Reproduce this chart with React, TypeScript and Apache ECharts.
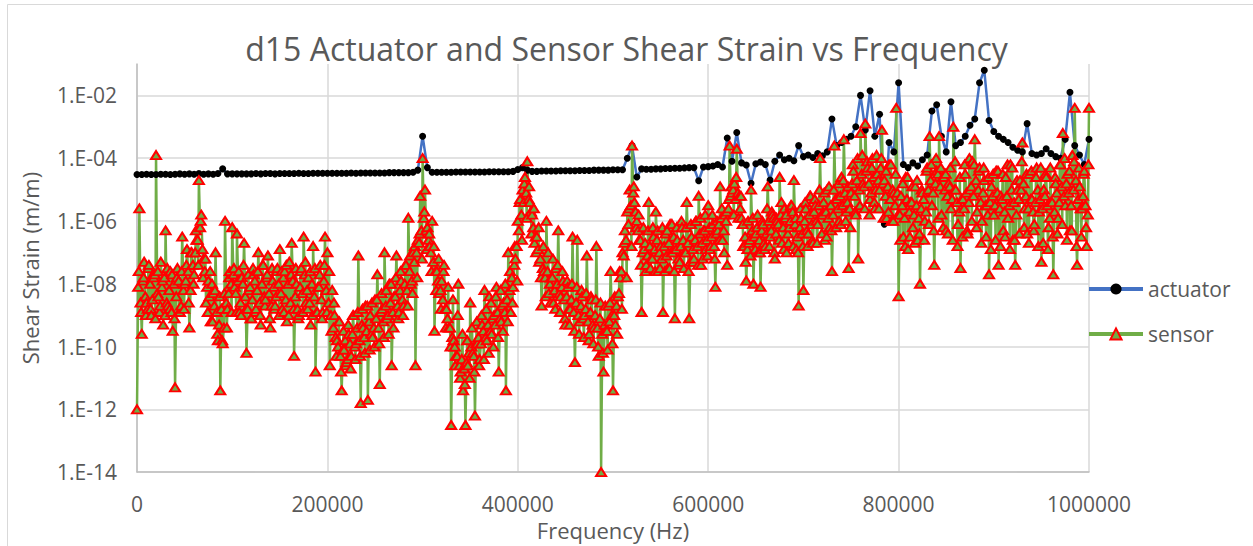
import React, { useEffect, useRef } from "react";
import * as echarts from "echarts";

// Title / axis texts
const TITLE = "d15 Actuator and Sensor Shear Strain vs Frequency";
const X_NAME = "Frequency (Hz)";
const Y_NAME = "Shear Strain (m/m)";
const SERIES_NAMES = ["actuator", "sensor"];

// Frequency sweep steps (Hz) of the sampled series
// sensorLog10 at k*2500, sensorMidLog10 at k*2500+1250, sensorBandLog10 at k*2500+1875
const SENSOR_STEP_HZ = 2500;
const SENSOR_MID_OFFSET_HZ = 1250;
const SENSOR_BAND_OFFSET_HZ = 1875;
const ACTUATOR_STEP_HZ = 5000;

// log10 of sensor shear strain at 0, 2500, 5000 ... 1 000 000 Hz
const sensorLog10 = [
  -12.0, -5.6, -9.6, -7.3, -8.6, -7.4, -9.0, -7.8, -3.9, -8.4, -7.3, -9.3, -6.3, -8.7, -7.6, -9.5, -11.3, -7.5, -8.9, -6.5,
  -8.0, -6.9, -9.4, -7.0, -7.7, -6.6, -4.7, -5.8, -7.2, -8.6, -7.9, -9.2, -8.3, -7.0, -9.8, -11.4, -9.9, -6.0, -8.8, -7.6,
  -6.2, -8.1, -6.4, -8.9, -7.8, -6.7, -10.2, -8.2, -9.1, -7.7, -8.8, -7.0, -9.3, -7.4, -8.5, -7.1, -9.4, -7.9, -8.7, -7.5,
  -6.9, -8.8, -7.6, -9.2, -7.3, -6.7, -10.3, -8.0, -9.0, -7.5, -6.5, -8.6, -7.8, -9.3, -6.8, -10.8, -8.1, -7.4, -8.9, -6.5,
  -7.0, -10.6, -8.2, -9.0, -9.8, -9.2, -11.4, -10.1, -10.5, -9.6, -10.3, -9.0, -9.9, -7.1, -11.8, -9.4, -8.7, -11.7, -9.0, -9.7,
  -8.5, -7.7, -11.2, -8.8, -7.0, -9.1, -8.0, -10.6, -8.4, -7.1, -8.9, -7.9, -8.7, -7.4, -5.9, -8.0, -7.0, -10.6, -6.6, -5.2,
  -4.0, -5.0, -6.2, -6.8, -6.0, -9.5, -7.6, -8.3, -7.9, -7.4, -8.8, -9.4, -12.5, -9.8, -10.3, -8.0, -10.8, -11.4, -12.5, -10.6,
  -8.6, -10.2, -12.2, -9.9, -10.4, -9.3, -8.2, -9.8, -8.4, -9.6, -9.0, -8.1, -10.8, -9.2, -8.6, -11.4, -7.0, -8.9, -8.1, -7.2,
  -6.0, -5.3, -5.0, -4.6, -4.1, -5.4, -5.8, -6.7, -6.5, -7.3, -8.7, -7.6, -6.0, -8.3, -7.8, -8.6, -7.5, -6.3, -8.4, -7.9,
  -9.3, -8.1, -8.8, -6.5, -10.5, -6.6, -9.2, -8.4, -9.0, -7.1, -9.6, -8.5, -9.4, -6.8, -10.3, -14.0, -10.8, -9.5, -8.7, -7.6,
  -11.4, -9.3, -8.4, -7.8, -7.0, -6.3, -5.7, -5.0, -3.6, -5.4, -6.0, -6.6, -8.9, -6.9, -7.4, -5.4, -7.2, -6.5, -5.7, -7.6,
  -6.8, -8.9, -6.4, -7.5, -6.1, -7.0, -9.1, -6.6, -7.3, -6.2, -7.0, -5.4, -9.1, -6.5, -7.2, -6.0, -5.2, -7.4, -6.3, -6.9,
  -5.5, -6.8, -6.1, -8.1, -6.3, -4.9, -6.6, -5.8, -7.4, -3.6, -5.1, -4.8, -3.7, -5.2, -5.9, -6.8, -7.9, -6.7, -5.0, -8.0,
  -6.4, -7.0, -8.1, -6.1, -6.8, -4.9, -6.5, -5.8, -7.2, -6.0, -4.6, -6.7, -5.6, -7.0, -6.2, -5.5, -4.7, -6.9, -8.7, -5.9,
  -8.2, -5.6, -6.4, -5.2, -6.7, -5.5, -6.1, -4.0, -5.8, -6.6, -5.0, -6.2, -7.6, -3.6, -5.3, -6.0, -4.6, -3.4, -5.7, -7.5,
  -5.1, -4.4, -5.8, -7.2, -3.2, -4.8, -2.9, -4.3, -5.3, -4.0, -5.6, -4.5, -5.0, -3.1, -4.7, -5.9, -4.2, -6.0, -5.1, -2.4,
  -8.4, -5.2, -6.5, -4.6, -6.9, -5.4, -6.2, -4.9, -6.6, -8.0, -5.1, -6.0, -4.3, -3.3, -5.5, -7.4, -4.4, -3.3, -5.8, -4.6,
  -6.3, -4.8, -5.6, -3.0, -5.0, -6.1, -7.5, -5.3, -4.5, -6.4, -5.0, -4.1, -3.4, -5.7, -4.3, -6.0, -4.7, -5.5, -7.7, -4.9,
  -5.8, -4.4, -7.4, -5.2, -6.3, -4.6, -5.9, -4.2, -6.6, -7.4, -5.0, -4.7, -3.5, -5.6, -6.4, -4.5, -5.3, -6.1, -4.3, -5.7,
  -7.3, -5.0, -4.6, -6.2, -5.4, -7.7, -4.8, -5.9, -4.2, -3.2, -5.5, -4.5, -6.3, -3.9, -2.4, -7.4, -4.9, -5.6, -4.4, -6.8,
  -2.4,
];

// log10 of sensor shear strain inside the dense band, at 1250, 3750 ... 998 750 Hz
const sensorMidLog10 = [
  -8.1, -8.6, -7.9, -8.4, -8.8, -8.0, -8.5, -7.7, -8.3, -8.9, -8.1, -7.8, -8.6, -8.2, -8.9, -8.0, -8.4, -7.9, -8.7, -8.2,
  -7.9, -7.6, -8.2, -7.4, -7.0, -6.6, -6.2, -6.9, -7.6, -8.1, -8.4, -8.0, -8.7, -8.9, -9.3, -8.8, -9.4, -8.6, -8.3, -8.0,
  -7.7, -8.3, -7.9, -8.6, -8.0, -8.4, -8.8, -8.1, -8.5, -7.9, -8.2, -8.6, -8.0, -8.4, -7.8, -8.3, -8.7, -8.1, -8.4, -8.0,
  -8.3, -7.8, -8.5, -8.0, -8.6, -7.9, -8.4, -8.8, -8.1, -8.3, -7.7, -8.2, -8.6, -8.0, -8.4, -8.9, -8.1, -8.5, -7.9, -8.2,
  -8.6, -9.0, -9.4, -9.7, -10.0, -10.3, -10.1, -9.8, -10.4, -9.9, -9.6, -10.0, -9.4, -9.8, -9.3, -9.7, -9.5, -9.2, -9.6, -9.4,
  -9.1, -9.4, -8.9, -9.2, -8.7, -9.0, -8.6, -8.9, -8.4, -8.7, -8.2, -8.5, -8.0, -8.2, -7.6, -7.9, -7.3, -7.0, -6.7, -6.3,
  -5.9, -6.3, -6.6, -7.0, -7.3, -7.6, -7.9, -8.2, -8.5, -8.8, -9.1, -9.4, -9.7, -10.0, -10.3, -10.6, -10.4, -10.7, -10.5, -10.2,
  -10.0, -10.3, -9.9, -9.7, -9.9, -9.5, -9.7, -9.3, -9.5, -9.1, -9.3, -8.9, -9.1, -8.7, -8.9, -8.5, -8.2, -7.8, -7.4, -6.8,
  -6.3, -5.8, -5.4, -5.1, -5.3, -5.7, -6.2, -6.5, -6.9, -7.2, -7.5, -7.8, -7.6, -8.0, -7.8, -8.2, -8.0, -8.3, -8.1, -8.5,
  -8.4, -8.8, -8.5, -8.9, -8.6, -9.0, -8.7, -9.1, -8.8, -9.2, -8.9, -9.3, -9.0, -9.4, -9.1, -9.6, -9.3, -9.5, -9.2, -9.0,
  -9.0, -8.7, -8.3, -7.6, -7.1, -6.6, -6.1, -5.5, -5.1, -5.7, -6.3, -6.6, -7.0, -6.7, -7.1, -6.8, -7.2, -6.9, -6.6, -7.0,
  -7.2, -6.8, -7.1, -6.7, -7.0, -6.5, -6.9, -7.2, -6.8, -6.6, -7.0, -6.7, -7.3, -6.9, -6.6, -6.8, -6.4, -6.7, -6.3, -6.6,
  -6.2, -6.5, -6.8, -6.4, -6.1, -5.9, -6.3, -6.0, -5.6, -5.2, -5.0, -5.3, -5.1, -5.6, -6.1, -6.5, -6.9, -6.6, -6.3, -6.5,
  -6.2, -6.6, -6.3, -6.7, -6.4, -6.0, -6.3, -5.9, -6.4, -6.1, -5.8, -6.2, -5.9, -6.4, -6.0, -5.7, -6.1, -6.5, -6.2, -6.4,
  -6.0, -6.3, -5.8, -6.1, -5.7, -6.0, -5.5, -5.8, -5.4, -5.7, -5.9, -5.5, -5.8, -5.3, -5.6, -5.2, -5.5, -5.1, -5.4, -5.6,
  -4.8, -5.2, -4.7, -5.0, -4.5, -4.9, -4.4, -4.8, -5.1, -4.6, -5.0, -4.7, -4.3, -4.8, -5.2, -4.9, -5.3, -5.0, -5.5, -5.1,
  -5.8, -5.5, -5.9, -5.3, -5.7, -5.4, -5.8, -5.5, -5.9, -5.6, -5.3, -5.7, -5.0, -4.7, -5.1, -4.8, -4.5, -4.9, -4.6, -5.0,
  -5.2, -4.9, -5.3, -5.0, -5.4, -5.7, -5.3, -5.6, -5.1, -5.4, -4.9, -5.2, -4.7, -5.0, -5.4, -5.1, -5.5, -5.8, -5.4, -5.2,
  -5.5, -5.1, -5.6, -5.3, -5.7, -5.2, -5.5, -5.0, -5.4, -5.8, -5.3, -5.0, -4.8, -5.2, -5.6, -5.3, -5.7, -5.4, -5.0, -5.3,
  -5.6, -5.2, -5.5, -5.9, -5.4, -5.7, -5.1, -5.4, -4.9, -5.2, -4.8, -5.1, -5.5, -5.0, -4.7, -5.3, -5.6, -5.2, -5.5, -5.8,
];

// log10 of sensor shear strain, upper/lower edges of the dense band, at 1875, 4375 ... 999 375 Hz
const sensorBandLog10 = [
  -7.6, -8.9, -7.8, -9.0, -7.5, -8.8, -7.7, -9.1, -7.6, -8.7, -7.9, -9.0, -7.5, -8.8, -7.7, -9.1, -7.8, -8.9, -7.6, -8.8,
  -7.4, -8.6, -7.0, -8.0, -6.3, -7.4, -6.0, -7.8, -7.2, -8.9, -7.6, -9.2, -8.2, -9.6, -8.4, -9.8, -8.3, -9.4, -7.8, -8.9,
  -7.5, -8.9, -7.6, -9.0, -7.4, -8.8, -7.7, -9.1, -7.5, -8.9, -7.6, -9.0, -7.4, -8.7, -7.7, -9.1, -7.5, -8.8, -7.6, -9.0,
  -7.6, -8.9, -7.4, -9.0, -7.7, -8.8, -7.5, -9.1, -7.6, -8.9, -7.3, -8.8, -7.6, -9.0, -7.5, -8.9, -7.7, -9.1, -7.4, -8.9,
  -7.6, -9.5, -8.6, -10.3, -9.2, -10.8, -9.5, -10.6, -9.3, -10.7, -9.0, -10.4, -8.9, -10.3, -8.8, -10.2, -8.7, -10.1, -8.6, -10.0,
  -8.5, -9.9, -8.3, -9.7, -8.2, -9.6, -8.0, -9.4, -7.8, -9.1, -7.6, -9.0, -7.4, -8.7, -7.1, -8.3, -6.8, -7.8, -6.4, -7.2,
  -5.7, -6.9, -6.4, -7.6, -6.8, -8.2, -7.2, -8.8, -7.6, -9.4, -8.1, -10.0, -8.5, -10.6, -9.0, -11.0, -9.6, -11.2, -9.8, -11.0,
  -9.4, -10.8, -9.2, -10.6, -9.0, -10.4, -8.8, -10.2, -8.6, -10.0, -8.4, -9.7, -8.2, -9.5, -8.0, -9.2, -7.6, -8.6, -6.8, -7.9,
  -5.4, -6.6, -4.8, -5.9, -4.9, -6.4, -5.6, -7.0, -6.2, -7.8, -6.8, -8.4, -7.0, -8.6, -7.2, -8.8, -7.4, -8.9, -7.6, -9.1,
  -7.9, -9.3, -8.0, -9.5, -8.1, -9.6, -8.2, -9.7, -8.3, -9.8, -8.4, -9.9, -8.5, -10.0, -8.6, -10.2, -8.7, -10.1, -8.6, -9.9,
  -8.4, -9.6, -7.6, -8.8, -6.7, -7.8, -5.6, -6.8, -4.9, -6.2, -5.8, -7.4, -6.2, -7.6, -6.3, -7.5, -6.2, -7.6, -6.3, -7.5,
  -6.2, -7.6, -6.3, -7.5, -6.1, -7.6, -6.2, -7.4, -6.0, -7.5, -6.2, -7.6, -6.1, -7.3, -6.0, -7.4, -5.9, -7.2, -5.8, -7.1,
  -6.9, -5.8, -7.2, -6.0, -6.6, -5.6, -7.0, -5.7, -5.3, -4.9, -5.8, -4.6, -5.9, -5.2, -6.8, -7.3, -6.0, -7.1, -5.9, -6.9,
  -5.8, -7.0, -6.0, -6.9, -5.6, -6.8, -5.7, -7.0, -5.9, -6.6, -5.4, -6.9, -5.8, -6.7, -5.5, -6.8, -5.9, -7.0, -5.6, -6.8,
  -5.4, -6.8, -5.2, -6.6, -5.3, -6.7, -5.0, -6.4, -5.1, -6.5, -4.9, -6.3, -5.0, -6.2, -4.8, -6.1, -4.7, -6.0, -4.9, -6.2,
  -4.2, -5.7, -4.0, -5.5, -3.9, -5.6, -4.1, -5.8, -4.3, -5.4, -3.9, -5.6, -4.0, -5.9, -4.4, -5.7, -4.2, -6.0, -4.5, -5.8,
  -6.6, -4.8, -6.8, -4.6, -6.5, -4.9, -6.7, -4.7, -6.4, -5.0, -6.6, -4.4, -6.1, -4.2, -6.3, -4.0, -5.9, -4.3, -6.2, -4.5,
  -6.4, -4.3, -6.6, -4.1, -6.8, -4.6, -6.5, -4.2, -6.3, -4.0, -6.0, -4.2, -6.2, -4.4, -6.7, -4.3, -6.5, -4.6, -6.9, -4.5,
  -6.6, -4.4, -6.8, -4.5, -6.5, -4.2, -6.9, -4.3, -6.6, -4.7, -6.4, -4.1, -6.2, -4.5, -6.7, -4.4, -6.3, -4.6, -6.8, -4.3,
  -6.7, -4.5, -6.9, -4.3, -6.5, -4.6, -6.4, -4.2, -6.1, -4.0, -6.6, -4.4, -6.3, -4.1, -6.8, -4.3, -6.5, -4.5, -6.2, -4.2,
];

// log10 of actuator shear strain at 0, 5000 ... 1 000 000 Hz
const actuatorLog10 = [
  -4.52, -4.52, -4.51, -4.52, -4.52, -4.51, -4.51, -4.52, -4.51, -4.5, -4.51, -4.5, -4.51, -4.49, -4.51, -4.5, -4.51, -4.49, -4.34, -4.5,
  -4.5, -4.5, -4.5, -4.5, -4.5, -4.49, -4.5, -4.49, -4.49, -4.5, -4.49, -4.49, -4.49, -4.49, -4.48, -4.49, -4.49, -4.48, -4.48, -4.48,
  -4.48, -4.48, -4.48, -4.48, -4.48, -4.47, -4.48, -4.47, -4.47, -4.47, -4.47, -4.47, -4.47, -4.46, -4.46, -4.46, -4.46, -4.46, -4.45, -4.38,
  -3.3, -4.3, -4.45, -4.45, -4.45, -4.45, -4.45, -4.44, -4.44, -4.44, -4.44, -4.44, -4.44, -4.44, -4.43, -4.43, -4.43, -4.43, -4.43, -4.42,
  -4.36, -4.3, -4.38, -4.42, -4.42, -4.41, -4.41, -4.41, -4.41, -4.4, -4.4, -4.4, -4.4, -4.39, -4.39, -4.39, -4.38, -4.38, -4.38, -4.38,
  -4.37, -4.37, -4.37, -4.0, -3.6, -4.6, -4.34, -4.35, -4.35, -4.34, -4.34, -4.33, -4.33, -4.32, -4.32, -4.31, -4.3, -4.3, -4.72, -4.28,
  -4.27, -4.25, -4.2, -4.28, -3.36, -4.1, -3.18, -4.15, -4.22, -4.8, -4.18, -4.12, -4.2, -4.7, -4.1, -3.9, -4.05, -4.0, -4.08, -3.6,
  -3.95, -3.9, -3.98, -3.85, -3.92, -3.8, -2.75, -3.6, -3.5, -3.4, -3.3, -3.0, -2.0, -3.1, -1.85, -3.3, -2.6, -6.1, -3.5, -3.8,
  -1.6, -4.2, -4.3, -4.15, -4.25, -4.05, -3.9, -2.5, -2.3, -3.3, -3.8, -2.2, -3.6, -3.5, -3.3, -2.95, -2.75, -1.6, -1.2, -2.8,
  -3.15, -3.3, -3.4, -3.5, -3.65, -3.75, -3.8, -2.9, -3.85, -3.9, -3.85, -3.7, -3.85, -3.95, -4.0, -3.4, -1.9, -3.6, -3.9, -4.2,
  -3.4,
];

// Y tick labels (even decades)
const yTickLabels = ["1.E-14", "1.E-12", "1.E-10", "1.E-08", "1.E-06", "1.E-04", "1.E-02"];

const FONT = "'Open Sans', 'Liberation Sans', sans-serif";
const TEXT_COLOR = "#595959";

export default function App() {
  const ref = useRef<HTMLDivElement>(null);

  useEffect(() => {
    if (!ref.current) return;
    const chart = echarts.init(ref.current, undefined, { renderer: "svg" });

    const actuatorData = actuatorLog10.map((v, i) => [i * ACTUATOR_STEP_HZ, Math.pow(10, v)]);
    const sensorData: number[][] = [];
    sensorLog10.forEach((v, i) => {
      const f0 = i * SENSOR_STEP_HZ;
      sensorData.push([f0, Math.pow(10, v)]);
      if (i < sensorMidLog10.length) {
        sensorData.push([f0 + SENSOR_MID_OFFSET_HZ, Math.pow(10, sensorMidLog10[i])]);
      }
      if (i < sensorBandLog10.length) {
        sensorData.push([f0 + SENSOR_BAND_OFFSET_HZ, Math.pow(10, sensorBandLog10[i])]);
      }
    });

    chart.setOption({
      animation: false,
      textStyle: { fontFamily: FONT },
      title: {
        text: TITLE,
        left: "center",
        top: 27,
        textStyle: { fontFamily: FONT, fontSize: 32, fontWeight: "normal", color: TEXT_COLOR },
      },
      graphic: [
        {
          type: "rect",
          shape: { x: 7.5, y: 4.5, width: 1260, height: 560 },
          style: { fill: "none", stroke: "#d9d9d9", lineWidth: 1 },
          silent: true,
        },
      ],
      legend: {
        orient: "vertical",
        left: 1087,
        top: 277,
        padding: 0,
        itemWidth: 54,
        itemHeight: 14,
        itemGap: 21,
        data: SERIES_NAMES,
        textStyle: { fontFamily: FONT, fontSize: 21, color: TEXT_COLOR, lineHeight: 24 },
        lineStyle: { width: 4 },
        selectedMode: false,
      },
      grid: { left: 137, top: 64, width: 952, height: 420, containLabel: false },
      xAxis: {
        type: "value",
        min: 0,
        max: 1000000,
        interval: 200000,
        name: X_NAME,
        nameLocation: "middle",
        nameGap: 35,
        nameTextStyle: { fontFamily: FONT, fontSize: 22, color: TEXT_COLOR },
        axisLine: { show: true, lineStyle: { color: "#bfbfbf", width: 1.5 } },
        axisTick: { show: false },
        axisLabel: {
          fontFamily: FONT,
          fontSize: 21,
          color: TEXT_COLOR,
          margin: 21,
          formatter: (v: number) => String(v),
        },
        splitLine: { show: true, lineStyle: { color: "#d9d9d9", width: 1.5 } },
      },
      yAxis: {
        type: "log",
        logBase: 10,
        min: 1e-14,
        max: 1e-1,
        interval: 2,
        name: Y_NAME,
        nameLocation: "middle",
        nameGap: 96,
        nameTextStyle: { fontFamily: FONT, fontSize: 22, color: TEXT_COLOR },
        axisLine: { show: true, lineStyle: { color: "#bfbfbf", width: 1.5 } },
        axisTick: { show: false },
        axisLabel: {
          fontFamily: FONT,
          fontSize: 21,
          color: TEXT_COLOR,
          margin: 20,
          showMaxLabel: false,
          formatter: (v: number) => {
            const e = Math.round(Math.log10(v));
            const lbl = "1.E-" + String(Math.abs(e)).padStart(2, "0");
            return yTickLabels.indexOf(lbl) >= 0 ? lbl : "";
          },
        },
        splitLine: { show: true, showMaxLine: false, lineStyle: { color: "#d9d9d9", width: 1.5 } },
      },
      series: [
        {
          name: SERIES_NAMES[0],
          type: "line",
          data: actuatorData,
          symbol: "circle",
          symbolSize: 7,
          showSymbol: true,
          showAllSymbol: true,
          itemStyle: { color: "#000000" },
          lineStyle: { color: "#4472C4", width: 2.5 },
          emphasis: { disabled: true },
          silent: true,
        },
        {
          name: SERIES_NAMES[1],
          type: "line",
          data: sensorData,
          symbol: "triangle",
          symbolSize: [10, 8],
          showSymbol: true,
          showAllSymbol: true,
          itemStyle: { color: "#70AD47", borderColor: "#FF0000", borderWidth: 2 },
          lineStyle: { color: "#70AD47", width: 2.5 },
          emphasis: { disabled: true },
          silent: true,
        },
      ],
    });

    return () => chart.dispose();
  }, []);

  return (
    <div
      ref={ref}
      style={{ position: "absolute", left: 0, top: 0, width: 1253, height: 546, background: "#ffffff" }}
    />
  );
}
